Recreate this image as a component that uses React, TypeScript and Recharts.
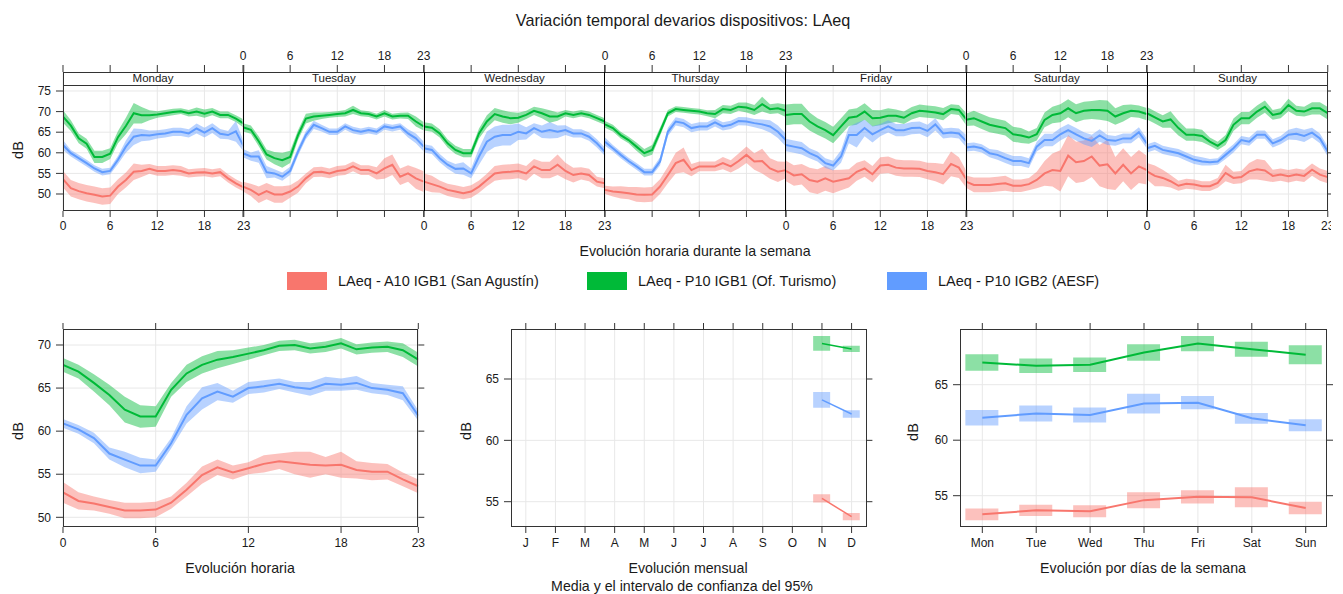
import React from 'react';
import { ComposedChart, Line, Area, Bar, XAxis, YAxis, CartesianGrid } from 'recharts';

// ---------------- categories & labels ----------------
const DAYS = ['Monday', 'Tuesday', 'Wednesday', 'Thursday', 'Friday', 'Saturday', 'Sunday'];
const DAY_ABBR = ['Mon', 'Tue', 'Wed', 'Thu', 'Fri', 'Sat', 'Sun'];
const MONTHS = ['J', 'F', 'M', 'A', 'M', 'J', 'J', 'A', 'S', 'O', 'N', 'D'];
const HOURS = [0, 1, 2, 3, 4, 5, 6, 7, 8, 9, 10, 11, 12, 13, 14, 15, 16, 17, 18, 19, 20, 21, 22, 23];
const HOUR_TICKS = [0, 6, 12, 18, 23];
const TOP_Y_TICKS = [50, 55, 60, 65, 70, 75];
const HOUR_Y_TICKS = [50, 55, 60, 65, 70];
const SMALL_Y_TICKS = [55, 60, 65];
const MONTH_POS = [1, 2, 3, 4, 5, 6, 7, 8, 9, 10, 11, 12];
const MONTHS_WITH_DATA = [11, 12];
const DAY_POS = [1, 2, 3, 4, 5, 6, 7];

const SERIES_NAMES = ['LAeq - A10 IGB1 (San Agustín)', 'LAeq - P10 IGB1 (Of. Turismo)', 'LAeq - P10 IGB2 (AESF)'];

// ---------------- weekly hourly means (one list per day, Mon..Sun) ----------------
const A10_WEEK = [
  [53.6, 51.4, 50.7, 50.2, 49.8, 49.4, 49.6, 51.8, 53.4, 55.4, 55.6, 56.1, 55.6, 55.6, 55.8, 55.6, 55.0, 55.2, 55.3, 55.0, 55.3, 53.8, 52.6, 51.6],
  [51.8, 51.0, 49.8, 50.7, 49.9, 49.9, 50.6, 51.8, 53.8, 55.3, 55.4, 55.0, 55.6, 55.8, 56.7, 55.8, 55.8, 55.0, 56.2, 57.1, 54.2, 55.0, 53.8, 53.0],
  [53.0, 52.4, 51.8, 51.0, 50.6, 50.2, 50.6, 51.8, 53.4, 55.0, 55.3, 55.4, 55.6, 55.0, 56.7, 55.8, 55.8, 57.1, 55.6, 54.6, 55.0, 54.6, 53.0, 52.6],
  [51.0, 50.6, 50.4, 50.2, 49.9, 49.8, 49.9, 51.8, 54.6, 57.5, 58.3, 55.8, 56.7, 56.7, 56.7, 57.5, 56.7, 58.0, 59.5, 57.9, 58.0, 56.2, 55.4, 55.8],
  [55.6, 54.5, 54.8, 53.4, 53.0, 53.8, 53.0, 53.4, 53.8, 55.4, 56.2, 54.8, 56.9, 57.1, 56.4, 56.2, 56.2, 56.1, 55.6, 55.3, 54.8, 57.3, 56.4, 53.4],
  [53.0, 52.2, 52.2, 52.2, 52.4, 52.6, 52.0, 52.0, 52.4, 53.4, 55.0, 55.8, 55.6, 59.3, 57.7, 58.0, 59.1, 56.9, 57.2, 55.0, 57.1, 55.0, 56.7, 55.8],
  [55.5, 54.4, 53.9, 53.1, 52.0, 52.5, 52.3, 51.9, 51.9, 52.7, 55.1, 53.9, 54.1, 55.5, 56.0, 55.7, 54.4, 54.7, 54.3, 54.7, 54.4, 55.9, 54.7, 54.1],
];
const A10_WEEK_CI = [
  [2.0, 2.0, 2.0, 2.0, 2.0, 2.0, 2.0, 1.8, 1.8, 2.0, 1.5, 1.2, 1.2, 1.2, 1.2, 1.2, 1.0, 1.0, 1.0, 1.0, 1.0, 1.0, 1.0, 1.0],
  [1.2, 1.5, 2.0, 2.0, 2.0, 2.0, 1.5, 1.5, 1.2, 1.2, 1.2, 1.2, 1.2, 1.2, 1.2, 1.2, 1.2, 1.5, 2.5, 2.5, 2.0, 2.0, 2.5, 2.5],
  [2.0, 2.0, 1.5, 1.5, 1.5, 1.5, 1.5, 1.5, 1.5, 1.8, 1.8, 1.8, 1.8, 1.8, 1.8, 2.0, 2.0, 2.5, 2.0, 1.8, 1.5, 1.5, 1.2, 1.2],
  [1.0, 1.2, 1.5, 1.5, 1.8, 1.8, 1.8, 1.8, 2.0, 2.5, 3.0, 1.5, 1.2, 1.2, 1.2, 1.5, 1.5, 1.8, 2.0, 2.0, 3.0, 2.5, 2.5, 2.0],
  [2.5, 2.5, 2.5, 3.0, 3.0, 3.0, 2.8, 2.5, 2.2, 2.2, 2.0, 2.0, 2.0, 2.0, 2.0, 2.0, 2.0, 2.0, 2.0, 2.2, 2.5, 3.0, 2.5, 2.0],
  [1.5, 1.8, 1.8, 1.8, 1.8, 1.8, 1.5, 1.5, 1.5, 2.0, 3.0, 4.0, 5.0, 5.0, 5.0, 5.0, 5.0, 5.0, 6.0, 4.0, 4.0, 4.0, 4.0, 3.5],
  [2.0, 2.5, 2.0, 1.5, 1.2, 1.2, 1.2, 1.2, 1.2, 1.2, 2.0, 1.5, 1.5, 2.0, 2.5, 2.5, 1.5, 1.5, 1.5, 1.5, 1.5, 1.5, 1.5, 1.5],
];
const P10A_WEEK = [
  [68.8, 66.6, 63.5, 62.2, 59.0, 59.0, 59.8, 63.8, 66.5, 69.6, 69.1, 69.1, 69.3, 69.6, 69.9, 70.1, 69.6, 70.0, 69.5, 70.0, 69.2, 69.2, 68.3, 67.1],
  [66.2, 65.6, 62.8, 59.6, 58.7, 58.2, 59.0, 64.3, 68.3, 68.8, 69.0, 69.2, 69.4, 69.6, 70.4, 69.6, 69.4, 68.8, 69.6, 68.8, 69.0, 69.0, 67.6, 66.4],
  [66.4, 66.1, 64.7, 62.3, 60.7, 59.9, 59.9, 64.7, 67.6, 69.4, 68.8, 68.4, 68.5, 69.2, 70.2, 69.6, 68.8, 68.8, 69.6, 69.2, 69.6, 69.2, 68.4, 67.6],
  [66.9, 66.0, 64.3, 63.1, 61.5, 59.9, 60.7, 65.1, 69.6, 70.6, 70.4, 70.2, 70.0, 69.6, 69.4, 70.6, 70.4, 71.2, 71.0, 70.4, 71.8, 70.6, 70.8, 70.2],
  [69.2, 69.4, 69.4, 67.6, 66.4, 65.5, 64.3, 66.4, 68.5, 68.8, 70.0, 68.4, 68.5, 69.0, 69.0, 68.5, 69.6, 70.2, 70.0, 69.8, 69.4, 70.6, 70.4, 68.0],
  [68.0, 68.4, 67.6, 66.8, 66.4, 66.0, 64.5, 64.2, 63.7, 64.5, 68.0, 69.2, 69.6, 70.8, 69.6, 70.2, 70.4, 70.4, 70.2, 68.8, 69.6, 70.2, 70.0, 69.4],
  [69.6, 68.6, 67.6, 68.1, 66.0, 64.4, 64.4, 64.1, 62.7, 61.7, 63.1, 66.8, 68.4, 68.4, 70.0, 71.2, 69.2, 69.6, 71.6, 70.2, 70.0, 70.8, 70.8, 69.6],
];
const P10A_WEEK_CI = [
  [1.5, 1.3, 1.2, 1.2, 1.5, 1.5, 1.3, 1.5, 2.0, 2.5, 2.0, 1.2, 0.8, 0.8, 0.8, 0.7, 0.8, 1.0, 1.0, 0.9, 0.8, 0.8, 0.8, 1.0],
  [1.0, 1.0, 1.2, 1.2, 1.5, 1.8, 1.5, 1.2, 1.2, 1.0, 0.8, 0.7, 0.7, 0.8, 1.0, 0.7, 0.7, 0.7, 0.8, 0.7, 0.7, 0.8, 1.2, 1.0],
  [1.0, 1.0, 1.0, 1.0, 1.0, 1.0, 1.0, 1.2, 1.5, 1.5, 1.5, 1.5, 1.2, 1.0, 1.0, 1.2, 1.5, 1.0, 0.8, 0.8, 0.8, 0.8, 0.8, 0.8],
  [0.8, 0.8, 0.8, 0.8, 1.0, 1.0, 1.2, 1.0, 0.8, 0.7, 0.7, 0.7, 0.7, 0.7, 1.0, 1.0, 1.0, 1.0, 1.2, 1.2, 1.8, 1.2, 1.2, 1.5],
  [2.5, 2.5, 2.5, 2.2, 2.0, 2.0, 2.0, 2.0, 2.0, 2.0, 2.0, 2.0, 1.8, 1.8, 1.5, 1.5, 1.5, 1.5, 1.5, 1.5, 1.5, 1.2, 1.2, 1.5],
  [1.5, 1.8, 1.8, 1.8, 1.8, 1.8, 1.8, 1.8, 1.5, 1.5, 1.8, 2.0, 2.2, 2.2, 2.2, 2.2, 2.2, 2.4, 2.5, 2.0, 2.0, 1.5, 1.5, 1.5],
  [1.5, 1.5, 1.5, 2.0, 1.8, 1.5, 1.5, 1.5, 1.0, 1.0, 1.2, 1.5, 1.5, 1.5, 1.5, 1.5, 1.2, 1.2, 1.5, 1.2, 1.2, 1.5, 1.5, 1.5],
];
const P10B_WEEK = [
  [61.9, 59.9, 58.7, 57.5, 56.2, 55.3, 55.6, 58.3, 61.5, 63.9, 64.3, 64.2, 64.5, 64.7, 65.1, 65.1, 64.7, 65.9, 64.9, 66.0, 64.6, 64.3, 65.2, 61.5],
  [59.9, 59.1, 59.1, 55.3, 55.0, 54.2, 55.6, 60.3, 64.3, 66.8, 66.0, 65.1, 65.1, 66.4, 65.5, 65.1, 65.5, 65.1, 66.4, 66.0, 66.4, 64.7, 63.5, 61.5],
  [61.1, 60.7, 58.7, 57.1, 56.1, 56.2, 55.0, 59.1, 62.7, 63.9, 64.3, 64.3, 65.1, 64.7, 66.0, 65.1, 65.5, 65.1, 65.5, 64.7, 64.7, 63.9, 62.3, 60.3],
  [62.7, 61.1, 59.5, 58.0, 56.7, 55.3, 55.3, 57.9, 65.1, 67.6, 67.2, 66.0, 66.4, 66.4, 67.4, 66.4, 66.8, 67.7, 67.6, 67.2, 66.9, 66.4, 65.1, 63.1],
  [61.9, 61.5, 61.1, 59.9, 59.1, 57.5, 56.9, 59.1, 64.3, 64.3, 66.0, 64.5, 65.5, 66.4, 65.5, 65.5, 66.0, 66.1, 65.3, 66.9, 64.7, 64.9, 64.7, 62.7],
  [61.3, 61.5, 61.1, 59.9, 59.5, 58.7, 58.0, 58.0, 57.5, 61.5, 63.1, 63.1, 64.5, 65.5, 64.5, 63.5, 62.9, 64.2, 63.1, 62.9, 63.5, 63.5, 65.0, 62.3],
  [61.1, 61.7, 60.7, 60.3, 59.9, 59.1, 58.3, 57.9, 57.7, 57.9, 59.5, 61.1, 63.1, 62.7, 64.4, 64.4, 62.3, 63.1, 64.4, 64.6, 64.1, 64.9, 63.5, 60.3],
];
const P10B_WEEK_CI = [
  [1.2, 0.8, 0.8, 0.8, 0.8, 0.8, 0.8, 1.0, 1.5, 2.0, 1.5, 1.2, 1.0, 1.0, 1.0, 1.0, 1.0, 1.2, 1.2, 1.2, 1.2, 1.0, 2.5, 1.2],
  [1.0, 1.0, 1.5, 1.5, 1.0, 1.0, 1.0, 1.0, 1.0, 1.0, 0.8, 0.8, 0.8, 0.8, 0.8, 0.8, 0.8, 0.8, 0.8, 0.8, 0.8, 1.0, 1.2, 1.2],
  [1.0, 1.0, 1.0, 1.0, 1.2, 1.5, 1.2, 2.0, 2.5, 2.5, 2.5, 2.5, 2.0, 1.5, 1.2, 1.5, 2.0, 1.5, 1.2, 1.0, 1.0, 1.0, 1.0, 1.0],
  [1.0, 0.8, 0.8, 0.8, 0.8, 0.8, 0.8, 1.0, 1.0, 1.0, 1.0, 1.0, 1.0, 1.0, 1.0, 1.0, 1.0, 1.0, 1.0, 1.0, 1.2, 1.5, 1.5, 1.5],
  [1.5, 1.5, 1.5, 1.2, 1.2, 1.2, 1.2, 1.5, 2.0, 3.0, 2.0, 2.0, 1.5, 1.5, 1.5, 1.5, 1.5, 1.5, 1.5, 1.5, 1.2, 1.2, 1.2, 1.5],
  [1.0, 1.0, 1.0, 1.0, 1.2, 1.2, 1.2, 1.2, 1.2, 1.2, 1.5, 1.5, 1.5, 1.5, 1.5, 1.5, 1.5, 1.5, 1.2, 1.2, 1.2, 1.2, 1.2, 1.2],
  [1.0, 1.0, 1.0, 1.0, 1.0, 1.0, 1.0, 1.0, 0.8, 0.8, 1.0, 1.0, 1.0, 1.0, 1.0, 1.0, 1.0, 1.0, 1.2, 1.5, 1.5, 1.2, 1.2, 1.2],
];

// ---------------- hourly profile ----------------
const A10_HOUR = [52.9, 51.9, 51.6, 51.2, 50.8, 50.8, 50.9, 51.7, 53.2, 54.9, 55.8, 55.2, 55.7, 56.2, 56.5, 56.3, 56.1, 56.0, 56.1, 55.5, 55.3, 55.3, 54.4, 53.6];
const A10_HOUR_CI = [1.2, 1.0, 0.8, 0.8, 0.9, 0.9, 0.9, 0.7, 0.8, 1.0, 0.9, 0.8, 0.7, 1.0, 0.9, 1.3, 1.5, 1.0, 1.5, 1.0, 1.0, 0.9, 0.8, 0.8];
const P10A_HOUR = [67.7, 66.9, 65.6, 64.2, 62.5, 61.7, 61.7, 64.8, 66.7, 67.7, 68.3, 68.6, 69.0, 69.4, 69.9, 70.0, 69.6, 69.8, 70.2, 69.5, 69.7, 69.8, 69.4, 68.3];
const P10A_HOUR_CI = [0.8, 0.8, 1.0, 1.2, 1.5, 1.3, 1.2, 0.8, 1.0, 1.0, 1.0, 0.8, 0.7, 0.6, 0.6, 0.6, 0.6, 0.6, 0.6, 0.6, 0.6, 0.6, 0.8, 0.8];
const P10B_HOUR = [60.9, 60.2, 59.2, 57.4, 56.7, 56.0, 56.0, 58.6, 61.9, 63.8, 64.6, 64.0, 65.0, 65.2, 65.5, 65.1, 64.9, 65.5, 65.4, 65.6, 65.0, 64.8, 64.4, 61.8];
const P10B_HOUR_CI = [0.5, 0.5, 0.6, 0.7, 0.9, 0.9, 0.7, 0.6, 1.0, 1.3, 1.0, 0.7, 0.7, 0.7, 0.6, 0.6, 0.8, 0.8, 0.7, 0.8, 0.6, 0.6, 0.8, 0.6];

// ---------------- monthly (Nov, Dec) ----------------
const A10_MONTH = [55.27, 53.78];
const A10_MONTH_CI = [0.33, 0.3];
const P10A_MONTH = [67.9, 67.45];
const P10A_MONTH_CI = [0.6, 0.25];
const P10B_MONTH = [63.3, 62.15];
const P10B_MONTH_CI = [0.65, 0.3];

// ---------------- weekday ----------------
const A10_WDAY = [53.32, 53.68, 53.6, 54.6, 54.9, 54.85, 53.89];
const A10_WDAY_CI = [0.53, 0.51, 0.54, 0.72, 0.6, 0.9, 0.56];
const P10A_WDAY = [67.0, 66.7, 66.8, 67.9, 68.7, 68.2, 67.7];
const P10A_WDAY_CI = [0.75, 0.65, 0.65, 0.75, 0.68, 0.68, 0.85];
const P10B_WDAY = [62.03, 62.4, 62.27, 63.3, 63.38, 61.97, 61.34];
const P10B_WDAY_CI = [0.7, 0.72, 0.68, 0.89, 0.6, 0.48, 0.54];

// ---------------- styles ----------------
const FONT = '"Liberation Sans", Arial, Helvetica, sans-serif';
const TXT = '#1a1a1a';
const AX = '#333333';
const GRID = '#e8e8e8';
const BAND_OP = 0.45;
const SERIES = [
  { id: 'r', color: '#F8766D' },
  { id: 'g', color: '#00BA38' },
  { id: 'b', color: '#619CFF' },
];

function buildRows(xs: number[], means: number[][], cis: number[][]) {
  return xs.map((x, i) => {
    const row: any = { x };
    SERIES.forEach((s, k) => {
      const m = means[k][i];
      const c = cis[k][i];
      row[s.id] = m;
      row[s.id + 'Band'] = [m - c, m + c];
    });
    return row;
  });
}

const tickStyle = { fill: TXT, fontSize: 12, fontFamily: FONT };
const blank = () => '';

// ---------------- top weekly panel geometry ----------------
const PANEL_L = 62.7;
const PANEL_R = 1328;
const DAY_W = (PANEL_R - PANEL_L) / 7;
const TOP_T = 72;
const TOP_B = 211;
const TOP_DOMAIN: [number, number] = [45.874, 79.612];

function DayChart({ d }: { d: number }) {
  const data = buildRows(HOURS, [A10_WEEK[d], P10A_WEEK[d], P10B_WEEK[d]], [A10_WEEK_CI[d], P10A_WEEK_CI[d], P10B_WEEK_CI[d]]);
  const first = d === 0;
  const last = d === 6;
  const yw = first ? 50 : 0;
  const ml = first ? 0 : 14;
  const rw = last ? 6 : 0;
  const mr = last ? 0 : 14;
  const plotL = PANEL_L + d * DAY_W;
  const left = plotL - yw - ml;
  const width = yw + ml + DAY_W + rw + mr;
  const chartTop = 40;
  const height = TOP_B - chartTop + 22;
  const showBottom = d % 2 === 0;
  const clipW = last ? 1331 - left : width;
  return (
    <div style={{ position: 'absolute', left, top: chartTop, width: clipW, height, overflow: 'hidden' }}>
      <ComposedChart width={width} height={height} data={data} margin={{ top: 2, right: mr, bottom: 0, left: ml }}>
        <CartesianGrid stroke={GRID} horizontalValues={TOP_Y_TICKS} verticalValues={HOUR_TICKS} />
        <XAxis dataKey="x" type="number" domain={[0, 23]} ticks={HOUR_TICKS} interval={0} allowDataOverflow
          height={22} tickSize={6} tickMargin={4} axisLine={false} tickLine={{ stroke: AX }} tick={tickStyle}
          tickFormatter={showBottom ? undefined : blank} />
        <XAxis xAxisId="top" orientation="top" dataKey="x" type="number" domain={[0, 23]} ticks={HOUR_TICKS} interval={0} allowDataOverflow
          height={30} tickSize={7} tickMargin={5} axisLine={false} tickLine={{ stroke: AX }} tick={tickStyle}
          tickFormatter={showBottom ? blank : undefined} />
        <YAxis type="number" domain={TOP_DOMAIN} ticks={TOP_Y_TICKS} allowDataOverflow hide={!first} width={yw}
          tickSize={7} tickMargin={5} axisLine={false} tickLine={{ stroke: AX }} tick={tickStyle} interval={0} />
        {last && (
          <YAxis yAxisId="right" orientation="right" type="number" domain={TOP_DOMAIN} ticks={TOP_Y_TICKS} allowDataOverflow
            width={rw} tickSize={4} axisLine={false} tickLine={{ stroke: AX }} tickFormatter={blank} interval={0} />
        )}
        {SERIES.map((s) => (
          <Area key={s.id + 'a'} type="linear" dataKey={s.id + 'Band'} stroke="none" fill={s.color} fillOpacity={BAND_OP}
            isAnimationActive={false} dot={false} activeDot={false} />
        ))}
        {SERIES.map((s) => (
          <Line key={s.id + 'l'} type="linear" dataKey={s.id} stroke={s.color} strokeWidth={2} dot={false} activeDot={false}
            isAnimationActive={false} />
        ))}
      </ComposedChart>
    </div>
  );
}

// ---------------- bottom panels ----------------
const BOT_T = 329;
const BOT_B = 527;

type SmallProps = {
  plotL: number;
  plotR: number;
  data: any[];
  xDomain: [number, number];
  xTicks: number[];
  xFmt?: (v: number) => string;
  yDomain: [number, number];
  yTicks: number[];
  barSize?: number;
  lineWidth: number;
};

function SmallChart(p: SmallProps) {
  const yw = 45;
  const rw = 8;
  const mr = 8;
  const left = p.plotL - yw;
  const width = p.plotR - p.plotL + yw + rw + mr;
  const top = 310;
  const height = BOT_B - top + 22;
  const bars = p.barSize != null;
  return (
    <div style={{ position: 'absolute', left, top, width, height }}>
      <ComposedChart width={width} height={height} data={p.data} margin={{ top: BOT_T - top - 10, right: mr, bottom: 0, left: 0 }}>
        <CartesianGrid stroke={GRID} horizontalValues={p.yTicks} verticalValues={p.xTicks} />
        <XAxis dataKey="x" type="number" domain={p.xDomain} ticks={p.xTicks} interval={0} allowDataOverflow
          height={22} tickSize={6} tickMargin={5} axisLine={false} tickLine={{ stroke: AX }} tick={tickStyle}
          tickFormatter={p.xFmt} />
        <XAxis xAxisId="top" orientation="top" dataKey="x" type="number" domain={p.xDomain} ticks={p.xTicks} interval={0} allowDataOverflow
          height={10} tickSize={6} axisLine={false} tickLine={{ stroke: AX }} tickFormatter={blank} />
        {bars && SERIES.map((s) => (
          <XAxis key={'bx' + s.id} xAxisId={'bx' + s.id} hide dataKey="x" type="number" domain={p.xDomain} allowDataOverflow />
        ))}
        <YAxis type="number" domain={p.yDomain} ticks={p.yTicks} allowDataOverflow width={yw} interval={0}
          tickSize={7} tickMargin={5} axisLine={false} tickLine={{ stroke: AX }} tick={tickStyle} />
        <YAxis yAxisId="right" orientation="right" type="number" domain={p.yDomain} ticks={p.yTicks} allowDataOverflow interval={0}
          width={rw} tickSize={6} axisLine={false} tickLine={{ stroke: AX }} tickFormatter={blank} />
        {bars
          ? SERIES.map((s) => (
              <Bar key={s.id + 'bar'} xAxisId={'bx' + s.id} dataKey={s.id + 'Band'} barSize={p.barSize} fill={s.color}
                fillOpacity={BAND_OP} isAnimationActive={false} />
            ))
          : SERIES.map((s) => (
              <Area key={s.id + 'a'} type="linear" dataKey={s.id + 'Band'} stroke="none" fill={s.color} fillOpacity={BAND_OP}
                isAnimationActive={false} dot={false} activeDot={false} />
            ))}
        {SERIES.map((s) => (
          <Line key={s.id + 'l'} type="linear" dataKey={s.id} stroke={s.color} strokeWidth={p.lineWidth} dot={false} activeDot={false}
            isAnimationActive={false} />
        ))}
      </ComposedChart>
    </div>
  );
}

function Txt({ x, y, size, rotate, children }: any) {
  return (
    <div style={{
      position: 'absolute', left: x, top: y, whiteSpace: 'nowrap', fontSize: size, lineHeight: 1,
      transform: `translate(-50%, -50%)${rotate ? ` rotate(${rotate}deg)` : ''}`,
    }}>{children}</div>
  );
}

function Frame({ l, t, w, h }: any) {
  return <div style={{ position: 'absolute', left: l, top: t, width: w, height: h, border: `1px solid ${AX}`, boxSizing: 'border-box' }} />;
}

const hourData = buildRows(HOURS, [A10_HOUR, P10A_HOUR, P10B_HOUR], [A10_HOUR_CI, P10A_HOUR_CI, P10B_HOUR_CI]);
const monthData = buildRows(MONTHS_WITH_DATA, [A10_MONTH, P10A_MONTH, P10B_MONTH], [A10_MONTH_CI, P10A_MONTH_CI, P10B_MONTH_CI]);
const wdayData = buildRows(DAY_POS, [A10_WDAY, P10A_WDAY, P10B_WDAY], [A10_WDAY_CI, P10A_WDAY_CI, P10B_WDAY_CI]);

const LEGEND_X = [287, 587, 887];
const AXIS_TITLE = 14.2;

export default function App() {
  return (
    <div style={{
      position: 'fixed', left: 0, top: 0, width: 1343, height: 594, background: '#fff', overflow: 'hidden',
      fontFamily: FONT, color: TXT,
    }}>
      <Txt x={683} y={20} size={16.2}>Variación temporal devarios dispositivos: LAeq</Txt>

      {DAYS.map((_, d) => <DayChart key={d} d={d} />)}
      {DAYS.map((name, d) => (
        <div key={name} style={{
          position: 'absolute', left: PANEL_L + d * DAY_W, top: TOP_T, width: DAY_W, height: 14, background: '#fff',
          borderBottom: `1px solid ${AX}`, boxSizing: 'border-box', fontSize: 11.5, lineHeight: '13px', textAlign: 'center',
        }}>{name}</div>
      ))}
      <Frame l={PANEL_L} t={TOP_T} w={PANEL_R - PANEL_L} h={TOP_B - TOP_T} />
      {DAYS.slice(1).map((name, i) => (
        <div key={'div' + name} style={{ position: 'absolute', left: PANEL_L + (i + 1) * DAY_W - 0.5, top: TOP_T, width: 1, height: TOP_B - TOP_T, background: '#000' }} />
      ))}
      <Txt x={18} y={150} size={14.5} rotate={-90}>dB</Txt>
      <Txt x={695} y={251} size={AXIS_TITLE}>Evolución horaria durante la semana</Txt>

      {SERIES.map((s, i) => (
        <React.Fragment key={'lg' + s.id}>
          <div style={{ position: 'absolute', left: LEGEND_X[i], top: 272, width: 40, height: 18, background: s.color }} />
          <div style={{ position: 'absolute', left: LEGEND_X[i] + 51, top: 273, fontSize: 14.5, lineHeight: '16px', whiteSpace: 'nowrap' }}>{SERIES_NAMES[i]}</div>
        </React.Fragment>
      ))}

      <SmallChart plotL={62.7} plotR={418} data={hourData} xDomain={[0, 23]} xTicks={HOUR_TICKS}
        yDomain={[48.874, 71.857]} yTicks={HOUR_Y_TICKS} lineWidth={2} />
      <Frame l={62.7} t={BOT_T} w={418 - 62.7} h={BOT_B - BOT_T} />
      <Txt x={18} y={431} size={14.5} rotate={-90}>dB</Txt>
      <Txt x={240} y={568} size={AXIS_TITLE}>Evolución horaria</Txt>

      <SmallChart plotL={511.3} plotR={866.7} data={monthData} xDomain={[0.5, 12.5]} xTicks={MONTH_POS}
        xFmt={(v: number) => MONTHS[v - 1]} yDomain={[52.938, 69.075]} yTicks={SMALL_Y_TICKS} barSize={17} lineWidth={1.5} />
      <Frame l={511.3} t={BOT_T} w={866.7 - 511.3} h={BOT_B - BOT_T} />
      <Txt x={466} y={431} size={14.5} rotate={-90}>dB</Txt>
      <Txt x={688} y={568} size={AXIS_TITLE}>Evolución mensual</Txt>
      <Txt x={682} y={586} size={AXIS_TITLE}>Media y el intervalo de confianza del 95%</Txt>

      <SmallChart plotL={960} plotR={1327} data={wdayData} xDomain={[0.586, 7.395]} xTicks={DAY_POS}
        xFmt={(v: number) => DAY_ABBR[v - 1]} yDomain={[52.18, 70.018]} yTicks={SMALL_Y_TICKS} barSize={33} lineWidth={2} />
      <Frame l={960} t={BOT_T} w={1327 - 960} h={BOT_B - BOT_T} />
      <Txt x={913} y={432} size={14.5} rotate={-90}>dB</Txt>
      <Txt x={1143} y={568} size={AXIS_TITLE}>Evolución por días de la semana</Txt>
    </div>
  );
}
